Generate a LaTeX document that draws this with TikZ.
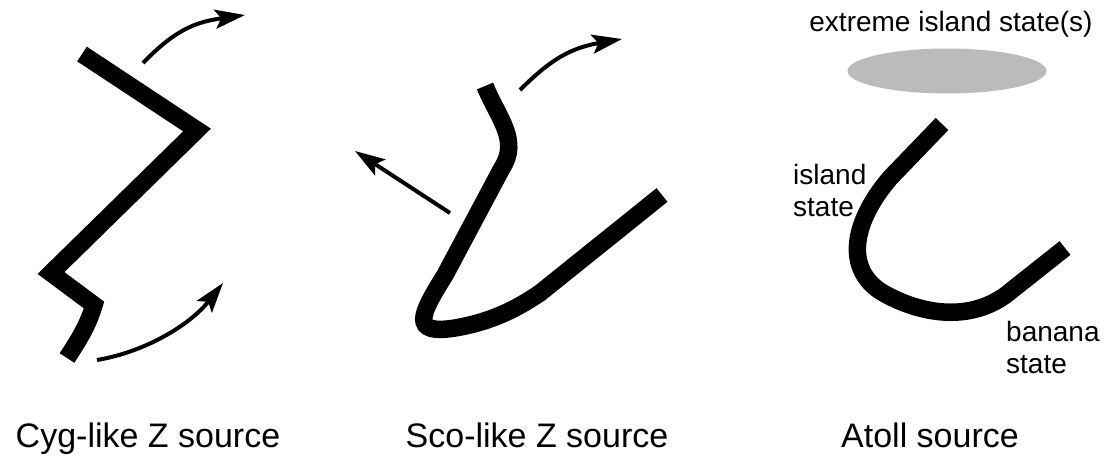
\documentclass[tikz,border=0pt]{standalone}
\usepackage{fontspec}
\setmainfont{Liberation Sans}
\usetikzlibrary{arrows.meta,shapes.geometric}
\tikzset{
  track/.style={line width=17.5pt, line join=miter, black},
  flow/.style={line width=4pt, -{Stealth[length=30pt,width=19pt,inset=6pt]}},
  biglabel/.style={font=\fontsize{34}{40}\selectfont, inner sep=0pt, anchor=base},
  smalllabel/.style={font=\fontsize{28}{32}\selectfont, inner sep=0pt, align=left},
}
\begin{document}
\begin{tikzpicture}[x=1pt,y=-1pt]
\useasboundingbox (0,0) rectangle (1106,456);
% ---- Cyg-like
\coordinate (c1) at (82,54);
\coordinate (c2) at (197,130);
\coordinate (c3) at (51,273);
\coordinate (c4) at (94,305);
\coordinate (c5) at (67,358);
\draw[track] (c1) -- (c2) -- (c3) -- (c4) .. controls (88,325) and (80,338) .. (c5);
\coordinate (ca1) at (143,63);
\coordinate (ca2) at (245,15);
\draw[flow] (ca1) .. controls (175,30) and (195,22) .. (ca2);
\coordinate (cb1) at (97,360);
\coordinate (cb2) at (223,283);
\draw[flow] (cb1) .. controls (145,352) and (190,325) .. (cb2);
\node[biglabel] (cyg) at (148,447) {Cyg-like Z source};
% ---- Sco-like
\coordinate (s1) at (485,86);
\coordinate (s2) at (662,195);
\draw[track] (s1) .. controls (498,118) and (520,140) .. (502,168)
  -- (445,275) .. controls (420,315) and (410,335) .. (455,328)
  .. controls (490,322) and (515,310) .. (540,293) -- (s2);
\coordinate (sa1) at (520,90);
\coordinate (sa2) at (622,39);
\draw[flow] (sa1) .. controls (550,60) and (570,48) .. (sa2);
\coordinate (sb1) at (450,213);
\coordinate (sb2) at (355,151);
\draw[flow] (sb1) -- (sb2);
\node[biglabel] (sco) at (537,447) {Sco-like Z source};
% ---- Atoll
\node[ellipse, fill={rgb,255:red,187;green,187;blue,187}, minimum width=199pt, minimum height=45pt, inner sep=0pt] (ext) at (947,71) {};
\node[font=\fontsize{28}{32}\selectfont, inner sep=0pt, anchor=base] (extl) at (951,31) {extreme island state(s)};
\coordinate (a1) at (942,124);
\coordinate (a2) at (1065,248);
\draw[track] (a1) -- (890,178) .. controls (850,225) and (845,272) .. (885,294)
  .. controls (925,316) and (975,322) .. (1012,290) -- (a2);
\node[smalllabel, anchor=base west] (isl) at (793,216) {island\\state};
\node[smalllabel, anchor=base west] (ban) at (1006,373) {banana\\state};
\node[biglabel] (atoll) at (930,447) {Atoll source};
\end{tikzpicture}
\end{document}
